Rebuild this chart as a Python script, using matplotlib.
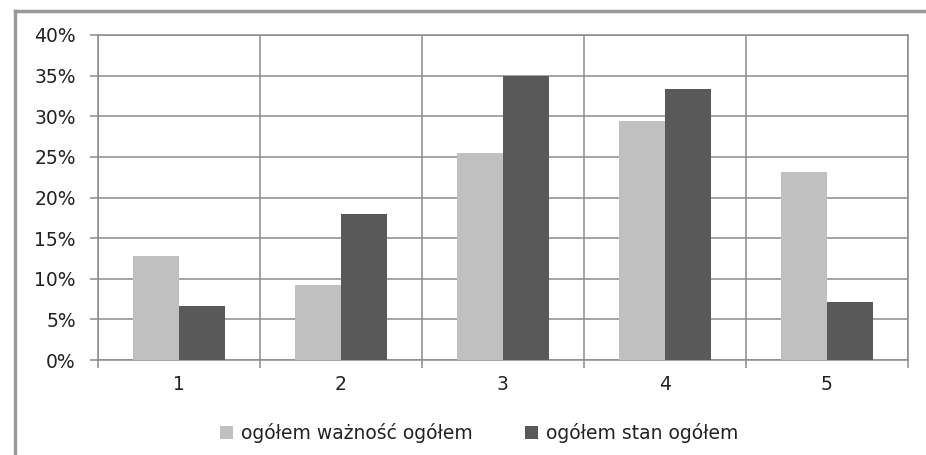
import numpy as np
import matplotlib.pyplot as plt
from matplotlib.lines import Line2D
from matplotlib.ticker import FuncFormatter, FixedLocator

# dane
categories = ['1', '2', '3', '4', '5']
waznosc = [12.8, 9.2, 25.5, 29.4, 23.2]
stan = [6.6, 18.0, 35.0, 33.3, 7.1]
labels = ['ogółem ważność ogółem', 'ogółem stan ogółem']

plt.rcParams['font.family'] = ['DejaVu Sans']
grid_col = '#8c8c8c'
fs = 13.5

fig = plt.figure(figsize=(9.26, 4.55), dpi=100)
ax = fig.add_axes([98 / 926, 1 - 360 / 455, 810 / 926, 325 / 455])

x = np.arange(len(categories))
w = 0.284
ax.bar(x - w / 2, waznosc, w, color='#c0c0c0', label=labels[0], zorder=3)
ax.bar(x + w / 2, stan, w, color='#595959', label=labels[1], zorder=3)

ax.set_xlim(-0.5, len(categories) - 0.5)
ax.set_ylim(0, 40)
ax.set_yticks(np.arange(0, 41, 5))
ax.yaxis.set_major_formatter(FuncFormatter(lambda v, p: f'{v:.0f}%'))
ax.set_xticks(x)
ax.set_xticklabels(categories)
ax.xaxis.set_minor_locator(FixedLocator(np.arange(-0.5, len(categories), 1)))

ax.grid(axis='y', color=grid_col, linewidth=1.1, zorder=0)
ax.grid(axis='x', which='minor', color=grid_col, linewidth=1.1, zorder=0)
ax.tick_params(axis='x', which='major', length=0, pad=11, labelsize=fs, colors='#222222')
ax.tick_params(axis='x', which='minor', length=6, color=grid_col, width=1.1)
ax.tick_params(axis='y', length=6, color=grid_col, width=1.1, labelsize=fs, colors='#222222', pad=10)
for s in ax.spines.values():
    s.set_color(grid_col)
    s.set_linewidth(1.1)

# ramka wykresu
fig.add_artist(Line2D([15 / 926, 15 / 926], [0, 1 - 11 / 455], color='#999999', lw=2.5))
fig.add_artist(Line2D([15 / 926, 1], [1 - 11 / 455, 1 - 11 / 455], color='#999999', lw=2.5))

fig.legend(loc='center', bbox_to_anchor=(479 / 926, 1 - 433 / 455), ncol=2, frameon=False,
           fontsize=fs, handlelength=0.7, handleheight=0.7, handletextpad=0.4,
           columnspacing=2.8, labelcolor='#222222')

fig.savefig('out.png', dpi=100)
